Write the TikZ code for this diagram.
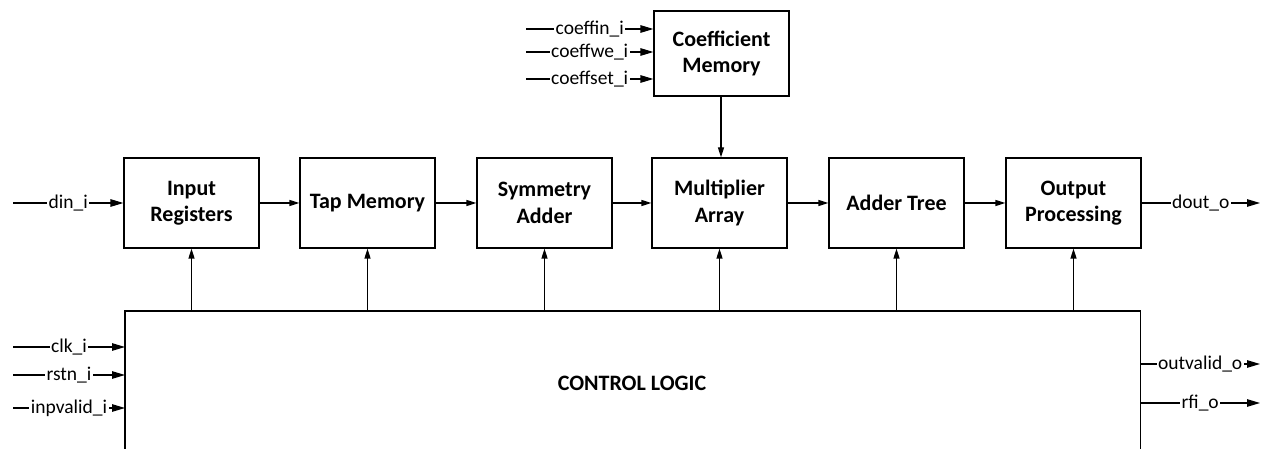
\documentclass[tikz,border=0pt]{standalone}
\usepackage{fontspec}
\setmainfont{Carlito}
\usetikzlibrary{arrows.meta,calc}
\begin{document}
\begin{tikzpicture}[x=1pt,y=-1pt,
  blk/.style={draw, line width=1.2pt, minimum width=135pt, minimum height=90pt, align=center,
    font=\fontsize{22}{26.5}\selectfont\bfseries, inner sep=0pt},
  sig/.style={line width=1.2pt, -{Triangle[length=13pt,width=7.5pt]}},
  lnk/.style={line width=1.2pt, -{Triangle[length=10pt,width=6pt]}},
  lbl/.style={fill=white, inner xsep=1.5pt, inner ysep=1pt, font=\fontsize{19.5}{22}\selectfont},
  edge3/.style={line width=1.2pt}
]
\useasboundingbox (0,0) rectangle (1262,449);

% main chain
\node[blk] (ir)  at (191.5,203) {Input\\Registers};
\node[blk] (tap) at (367.5,203) {Tap Memory};
\node[blk] (sym) at (544.5,203) {Symmetry\\Adder};
\node[blk] (mul) at (719.5,203) {Multiplier\\Array};
\node[blk] (add) at (896.5,203) {Adder Tree};
\node[blk] (out) at (1073.5,203) {Output\\Processing};
\node[blk, minimum height=85pt] (cm) at (721.5,53.5) {Coefficient\\Memory};

% control logic (bottom edge outside the picture)
\node[minimum width=1015pt, minimum height=141pt, anchor=north west, inner sep=0pt] (ctrl) at (125,311) {};
\node[font=\fontsize{22}{26.5}\selectfont\bfseries] (ctrltxt) at (632,383) {CONTROL LOGIC};
\draw[edge3] (ctrl.south west) -- (ctrl.north west) -- (ctrl.north east) -- (ctrl.south east);

% chain connectors
\draw[lnk] (ir) -- (tap);
\draw[lnk] (tap) -- (sym);
\draw[lnk] (sym) -- (mul);
\draw[lnk] (mul) -- (add);
\draw[lnk] (add) -- (out);
\draw[lnk] (cm.south -| mul.north) ++(1.5,0) coordinate (cmb) -- (cmb |- mul.north);

% control to blocks
\foreach \b in {ir,tap,sym,mul,add,out}
  \draw[lnk] (\b.south |- ctrl.north) -- (\b.south);

% data input / output
\coordinate (din) at (13,203);
\draw[sig] (din) -- node[lbl]{din\_i} (ir.west);
\coordinate (dout) at (1260,203);
\draw[sig] (out.east) -- node[lbl]{dout\_o} (dout);

% coefficient inputs
\coordinate (c1) at (526,29);
\coordinate (c2) at (526,52);
\coordinate (c3) at (526,79);
\draw[sig] (c1) -- node[lbl]{coeffin\_i} (c1 -| cm.west);
\draw[sig] (c2) -- node[lbl]{coeffwe\_i} (c2 -| cm.west);
\draw[sig] (c3) -- node[lbl]{coeffset\_i} (c3 -| cm.west);

% control inputs
\coordinate (k1) at (13,347);
\coordinate (k2) at (13,375);
\coordinate (k3) at (13,408);
\draw[sig] (k1) -- node[lbl]{clk\_i} (k1 -| ctrl.west);
\draw[sig] (k2) -- node[lbl]{rstn\_i} (k2 -| ctrl.west);
\draw[sig] (k3) -- node[lbl]{inpvalid\_i} (k3 -| ctrl.west);

% control outputs
\coordinate (o1) at (1260,364);
\coordinate (o2) at (1260,403);
\draw[sig] (o1 -| ctrl.east) -- node[lbl]{outvalid\_o} (o1);
\draw[sig] (o2 -| ctrl.east) -- node[lbl]{rfi\_o} (o2);
\end{tikzpicture}
\end{document}
